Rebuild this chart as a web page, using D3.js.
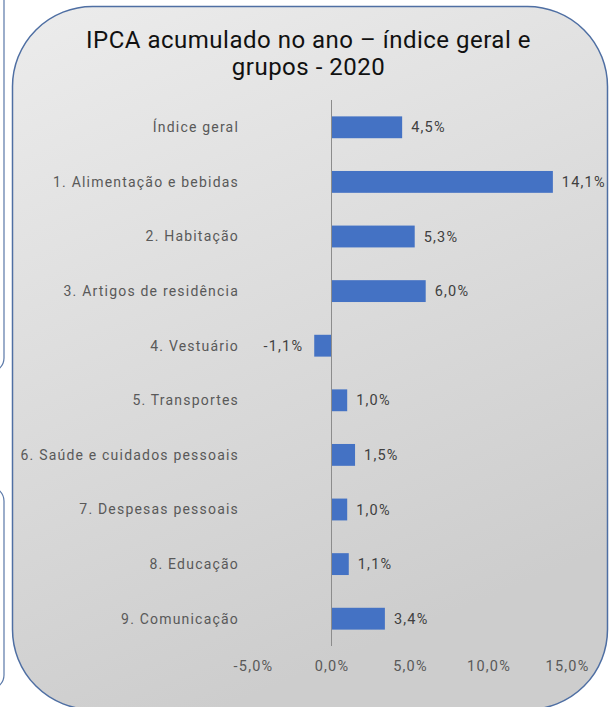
<!DOCTYPE html>
<html>
<head>
<meta charset="utf-8">
<script src="https://cdn.jsdelivr.net/npm/d3@7"></script>
<style>
  body { margin: 0; background: #fff; }
  svg { display: block; }
</style>
</head>
<body>
<svg id="chart"></svg>
<script>
// data
var categories = ["Índice geral", "1. Alimentação e bebidas", "2. Habitação", "3. Artigos de residência",
  "4. Vestuário", "5. Transportes", "6. Saúde e cuidados pessoais", "7. Despesas pessoais",
  "8. Educação", "9. Comunicação"];
var values = [4.5, 14.1, 5.3, 6.0, -1.1, 1.0, 1.5, 1.0, 1.1, 3.4];
var tickValues = [-5, 0, 5, 10, 15];
var titleLines = ["IPCA acumulado no ano – índice geral e", "grupos - 2020"];

var W = 614, H = 707;
var svg = d3.select("#chart").attr("width", W).attr("height", H);

var fmt = function(v) { return v.toFixed(1).replace(".", ",") + "%"; };
var FONT = "Roboto, 'Liberation Sans', sans-serif";

//gradient for the panel
var defs = svg.append("defs");
var grad = defs.append("linearGradient")
  .attr("id", "bg")
  .attr("x1", "0").attr("y1", "0").attr("x2", "0.35").attr("y2", "1");
grad.append("stop").attr("offset", "0%").attr("stop-color", "#ececec");
grad.append("stop").attr("offset", "100%").attr("stop-color", "#cdcdcd");

//cropped neighbour panels on the left
svg.append("rect")
  .attr("x", -60).attr("y", -30).attr("width", 64).attr("height", 402)
  .attr("rx", 14)
  .attr("fill", "none").attr("stroke", "#5a78a8").attr("stroke-width", 1.2);
svg.append("rect")
  .attr("x", -60).attr("y", 487).attr("width", 64).attr("height", 202)
  .attr("rx", 14)
  .attr("fill", "none").attr("stroke", "#5a78a8").attr("stroke-width", 1.2);

//main panel
svg.append("rect")
  .attr("x", 12.5).attr("y", 6.5).attr("width", 595).attr("height", 703)
  .attr("rx", 80)
  .attr("fill", "url(#bg)")
  .attr("stroke", "#4f6fa3").attr("stroke-width", 1.5);

//title
svg.append("g").selectAll("text")
  .data(titleLines)
  .enter()
  .append("text")
  .attr("x", 308.5)
  .attr("y", function(d, i) { return 48 + i * 27; })
  .attr("text-anchor", "middle")
  .style("font-family", FONT)
  .style("font-size", "24px")
  .style("letter-spacing", "0.5px")
  .attr("fill", "#111")
  .text(function(d) { return d; });

//scales
var xScale = d3.scaleLinear().domain([-5, 15]).range([253, 567]);
var yScale = d3.scaleBand().domain(categories).range([100, 646])
  .paddingInner(0.6).paddingOuter(0.3);

var rows = categories.map(function(c, i) { return {cat: c, val: values[i]}; });

//bars
svg.append("g").selectAll("rect")
  .data(rows)
  .enter()
  .append("rect")
  .attr("x", function(d) { return xScale(Math.min(0, d.val)); })
  .attr("y", function(d) { return yScale(d.cat); })
  .attr("width", function(d) { return Math.abs(xScale(d.val) - xScale(0)); })
  .attr("height", yScale.bandwidth())
  .attr("fill", "#4472c4");

//zero axis line
svg.append("line")
  .attr("x1", xScale(0)).attr("x2", xScale(0))
  .attr("y1", 100).attr("y2", 646)
  .attr("stroke", "#8c8c8c").attr("stroke-width", 1);

//category labels
svg.append("g").selectAll("text")
  .data(rows)
  .enter()
  .append("text")
  .attr("x", 239)
  .attr("y", function(d) { return yScale(d.cat) + yScale.bandwidth() / 2; })
  .attr("dy", "0.35em")
  .attr("text-anchor", "end")
  .style("font-family", FONT)
  .style("font-size", "14px")
  .style("letter-spacing", "1.2px")
  .attr("fill", "#595959")
  .text(function(d) { return d.cat; });

//value labels
svg.append("g").selectAll("text")
  .data(rows)
  .enter()
  .append("text")
  .attr("x", function(d) { return d.val >= 0 ? xScale(d.val) + 9 : xScale(d.val) - 11; })
  .attr("y", function(d) { return yScale(d.cat) + yScale.bandwidth() / 2; })
  .attr("dy", "0.35em")
  .attr("text-anchor", function(d) { return d.val >= 0 ? "start" : "end"; })
  .style("font-family", FONT)
  .style("font-size", "14.5px")
  .style("letter-spacing", "1.2px")
  .attr("fill", "#404040")
  .text(function(d) { return fmt(d.val); });

//x axis tick labels
var xAxis = svg.append("g")
  .attr("transform", "translate(0,661)")
  .call(d3.axisBottom(xScale).tickValues(tickValues).tickSize(0).tickPadding(0)
    .tickFormat(function(d) { return fmt(d); }));
xAxis.select(".domain").remove();
xAxis.selectAll("text")
  .attr("dy", "0.71em")
  .style("font-family", FONT)
  .style("font-size", "14.5px")
  .style("letter-spacing", "1.2px")
  .attr("fill", "#595959");
</script>
</body>
</html>
